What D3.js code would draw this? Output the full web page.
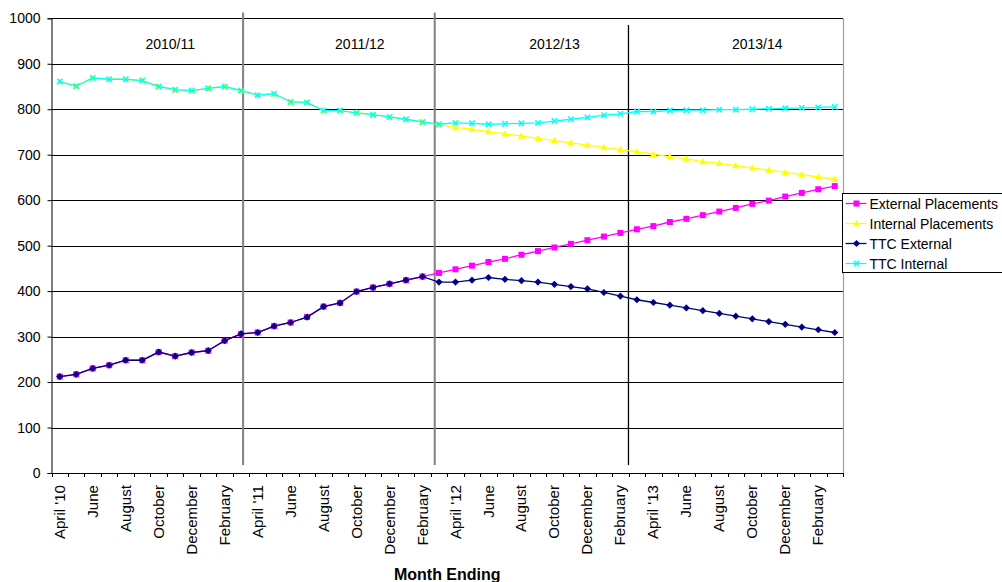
<!DOCTYPE html>
<html>
<head>
<meta charset="utf-8">
<script src="https://cdn.jsdelivr.net/npm/d3@7"></script>
<style>
  html, body { margin: 0; padding: 0; background: #fff; }
  svg { display: block; font-family: "Liberation Sans", Arial, sans-serif; }
</style>
</head>
<body>
<svg id="chart" width="1002" height="582"></svg>
<script>
// ---- data -------------------------------------------------------------
const monthNames = ["April", "May", "June", "July", "August", "September",
                    "October", "November", "December", "January", "February", "March"];
const aprilSuffixes = ["'10", "'11", "'12", "'13"];
const fiscalYears = ["2010/11", "2011/12", "2012/13", "2013/14"];

// month-ending labels, April 2010 .. March 2014
const monthLabels = aprilSuffixes.flatMap(suf =>
  monthNames.map((m, i) => (i === 0 ? `${m} ${suf}` : m)));

const yTicks = [0, 100, 200, 300, 400, 500, 600, 700, 800, 900, 1000];

const externalPlacements = [
  212, 217, 230, 237, 248, 248, 266, 257, 265, 269, 291, 306,
  309, 323, 331, 343, 366, 374, 399, 408, 416, 424, 432, 440,
  448, 456, 464, 471, 480, 488, 496, 504, 512, 520, 528, 536,
  543, 552, 559, 567, 575, 583, 592, 599, 608, 616, 624, 631
];
const internalPlacements = [
  861, 851, 869, 866, 866, 863, 850, 843, 841, 846, 850, 841,
  831, 834, 816, 815, 797, 797, 792, 788, 783, 778, 772, 766,
  760, 756, 751, 746, 741, 736, 731, 726, 721, 716, 711, 707,
  701, 696, 691, 685, 681, 676, 671, 666, 661, 656, 651, 646
];
const ttcExternal = [
  212, 217, 230, 237, 248, 248, 266, 257, 265, 269, 291, 306,
  309, 323, 331, 343, 366, 374, 399, 408, 416, 424, 432, 420,
  420, 424, 430, 426, 423, 420, 415, 410, 405, 397, 389, 381,
  375, 369, 363, 357, 351, 345, 339, 333, 327, 321, 315, 309
];
const ttcInternal = [
  861, 851, 869, 866, 866, 863, 850, 843, 841, 846, 850, 841,
  831, 834, 816, 815, 797, 797, 792, 788, 783, 778, 772, 767,
  770, 769, 767, 768, 769, 770, 774, 778, 782, 787, 790, 795,
  795, 797, 798, 798, 799, 799, 800, 801, 802, 803, 804, 805
];

// financial-year banner positions, in month index units
const fiscalLabelAt = [6.7, 18.2, 30.0, 42.3];
const fiscalDividerAt = [11.12, 22.74, 34.49];
const fiscalDividerTop = [1013, 1013, 985];
const fiscalDividerBottom = 17.5;

const seriesNames = ["External Placements", "Internal Placements", "TTC External", "TTC Internal"];
const seriesValues = [externalPlacements, internalPlacements, ttcExternal, ttcInternal];

// ---- layout -----------------------------------------------------------
const svg = d3.select("#chart");
const plot = { left: 51.5, right: 843, top: 18.3, bottom: 473 };

const x = d3.scaleBand().domain(d3.range(monthLabels.length)).range([plot.left, plot.right]).padding(0);
const y = d3.scaleLinear().domain([0, 1000]).range([plot.bottom, plot.top]);
// centre of a (possibly fractional) month index
const xc = i => x(0) + x.bandwidth() * (i + 0.5);

const styles = [
  { color: "#FF00FF", marker: "square" },
  { color: "#FFFF00", marker: "triangle" },
  { color: "#000080", marker: "diamond" },
  { color: "#00FFFF", marker: "cross" }
];

// ---- gridlines --------------------------------------------------------
svg.append("g")
  .selectAll("line")
  .data(yTicks.filter(v => v > 0))
  .join("line")
  .attr("x1", plot.left).attr("x2", plot.right)
  .attr("y1", d => Math.round(y(d)) + 0.5).attr("y2", d => Math.round(y(d)) + 0.5)
  .attr("stroke", "#000").attr("stroke-width", 1);

// right frame edge
svg.append("line")
  .attr("x1", plot.right + 0.5).attr("x2", plot.right + 0.5)
  .attr("y1", Math.round(y(1000)) + 0.5).attr("y2", plot.bottom)
  .attr("stroke", "#a0a0a0").attr("stroke-width", 1.2);

// ---- y axis -----------------------------------------------------------
const yAxis = svg.append("g")
  .attr("transform", `translate(${plot.left},0)`)
  .call(d3.axisLeft(y).tickValues(yTicks).tickSize(4).tickPadding(7).tickFormat(d3.format("d")));
yAxis.select(".domain").attr("stroke", "#000");
yAxis.selectAll(".tick line").attr("stroke", "#000");
yAxis.selectAll("text")
  .attr("font-family", "Liberation Sans, Arial, sans-serif")
  .attr("font-size", 14).attr("fill", "#000");

// ---- x axis -----------------------------------------------------------
const xAxisG = svg.append("g");
xAxisG.append("line")
  .attr("x1", plot.left).attr("x2", plot.right)
  .attr("y1", plot.bottom + 0.5).attr("y2", plot.bottom + 0.5)
  .attr("stroke", "#000");
xAxisG.selectAll("line.tick")
  .data(d3.range(monthLabels.length + 1))
  .join("line").attr("class", "tick")
  .attr("x1", i => Math.round(x(0) + i * x.bandwidth()) + 0.5)
  .attr("x2", i => Math.round(x(0) + i * x.bandwidth()) + 0.5)
  .attr("y1", plot.bottom).attr("y2", plot.bottom + 4)
  .attr("stroke", "#000");
xAxisG.selectAll("text")
  .data(monthLabels.map((label, i) => ({ label, i })).filter(d => d.i % 2 === 0))
  .join("text")
  .attr("transform", d => `translate(${xc(d.i)},${plot.bottom + 12}) scale(1,1.08) rotate(-90)`)
  .attr("text-anchor", "end")
  .attr("dy", "0.36em")
  .attr("font-size", 14)
  .attr("fill", "#000")
  .text(d => d.label);

svg.append("text")
  .attr("x", (plot.left + plot.right) / 2)
  .attr("y", 580)
  .attr("text-anchor", "middle")
  .attr("font-size", 16).attr("font-weight", "bold")
  .attr("fill", "#000")
  .text("Month Ending");

// ---- financial year dividers and labels ------------------------------
svg.append("g").selectAll("line")
  .data(fiscalDividerAt)
  .join("line")
  .attr("x1", d => xc(d)).attr("x2", d => xc(d))
  .attr("y1", (d, i) => y(fiscalDividerTop[i]))
  .attr("y2", y(fiscalDividerBottom))
  .attr("stroke", (d, i) => i < 2 ? "#808080" : "#000")
  .attr("stroke-width", (d, i) => i < 2 ? 2 : 1.3);

svg.append("g").selectAll("text")
  .data(fiscalYears)
  .join("text")
  .attr("x", (d, i) => xc(fiscalLabelAt[i]))
  .attr("y", 49)
  .attr("text-anchor", "middle")
  .attr("font-size", 14)
  .attr("fill", "#000")
  .text(d => d);

// ---- markers ----------------------------------------------------------
function drawMarker(g, type, color, size) {
  const s = size;
  if (type === "square") {
    g.append("rect").attr("x", -s / 2).attr("y", -s / 2).attr("width", s).attr("height", s)
      .attr("fill", color);
  } else if (type === "triangle") {
    g.append("path").attr("d", `M0,${-s * 0.6}L${s * 0.6},${s * 0.45}L${-s * 0.6},${s * 0.45}Z`)
      .attr("fill", color);
  } else if (type === "diamond") {
    g.append("path").attr("d", `M0,${-s * 0.6}L${s * 0.6},0L0,${s * 0.6}L${-s * 0.6},0Z`)
      .attr("fill", color);
  } else {
    const h = s * 0.45;
    g.append("path").attr("d", `M${-h},${-h}L${h},${h}M${-h},${h}L${h},${-h}`)
      .attr("stroke", color).attr("stroke-width", 1.5).attr("fill", "none");
  }
}

// ---- series -----------------------------------------------------------
const line = d3.line().x((d, i) => xc(i)).y(d => y(d));

seriesValues.forEach((vals, k) => {
  const st = styles[k];
  const g = svg.append("g");
  g.append("path")
    .attr("d", line(vals))
    .attr("fill", "none")
    .attr("stroke", st.color)
    .attr("stroke-width", 1.3);
  g.selectAll("g.pt")
    .data(vals)
    .join("g").attr("class", "pt")
    .attr("transform", (d, i) => `translate(${xc(i)},${y(d)})`)
    .each(function () { drawMarker(d3.select(this), st.marker, st.color, 6); });
});

// ---- legend -----------------------------------------------------------
const legend = svg.append("g").attr("transform", "translate(842.5,193.5)");
legend.append("rect")
  .attr("width", 175).attr("height", 79)
  .attr("fill", "#fff").attr("stroke", "#000").attr("stroke-width", 1);
seriesNames.forEach((name, k) => {
  const row = legend.append("g").attr("transform", `translate(0,${10 + k * 20})`);
  row.append("line").attr("x1", 3).attr("x2", 24).attr("y1", 0).attr("y2", 0)
    .attr("stroke", styles[k].color).attr("stroke-width", 1.3);
  drawMarker(row.append("g").attr("transform", "translate(14,0)"), styles[k].marker, styles[k].color, 6);
  row.append("text")
    .attr("x", 27).attr("y", 0).attr("dy", "0.36em")
    .attr("font-size", 14).attr("fill", "#000")
    .text(name);
});
</script>
</body>
</html>
